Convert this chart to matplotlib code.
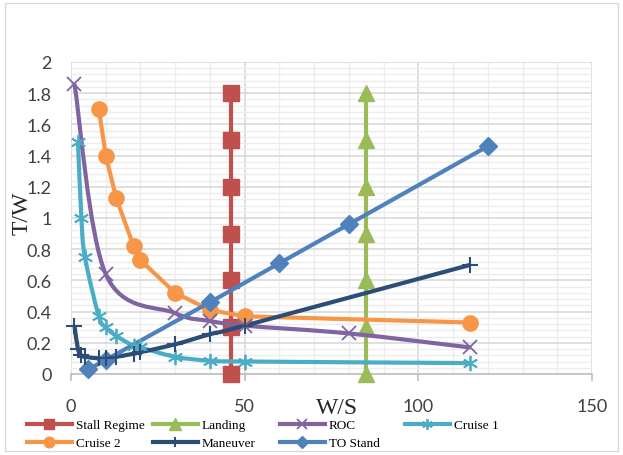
import matplotlib.pyplot as plt
import numpy as np
from matplotlib.path import Path
from matplotlib.patches import PathPatch, Rectangle
from matplotlib.lines import Line2D
from matplotlib.ticker import MultipleLocator

# ---- data ----
stall_x = [46, 46, 46, 46, 46, 46, 46]
stall_y = [0, 0.3, 0.6, 0.9, 1.2, 1.5, 1.8]

landing_x = [85, 85, 85, 85, 85, 85, 85]
landing_y = [0, 0.3, 0.6, 0.9, 1.2, 1.5, 1.8]

roc_x = [1, 10, 30, 40, 50, 80, 115]
roc_y = [1.86, 0.64, 0.39, 0.34, 0.31, 0.26, 0.17]

cruise1_x = [2, 3, 4, 8, 10, 13, 18, 20, 30, 40, 50, 115]
cruise1_y = [1.49, 1.0, 0.75, 0.37, 0.30, 0.245, 0.18, 0.17, 0.11, 0.085, 0.08, 0.07]

cruise2_x = [8, 10, 13, 18, 20, 30, 40, 50, 115]
cruise2_y = [1.70, 1.40, 1.13, 0.82, 0.73, 0.52, 0.41, 0.37, 0.33]

maneuver_x = [1, 2, 3, 4, 8, 10, 13, 18, 20, 30, 40, 50, 115]
maneuver_y = [0.31, 0.16, 0.12, 0.11, 0.10, 0.10, 0.11, 0.13, 0.14, 0.19, 0.255, 0.31, 0.70]

to_x = [5, 10, 40, 60, 80, 120]
to_y = [0.03, 0.09, 0.46, 0.71, 0.96, 1.46]

W, H = 623, 456
fig = plt.figure(figsize=(W / 100, H / 100), dpi=100)
ax = fig.add_axes([71 / W, 1 - 375 / H, (592 - 71) / W, (375 - 63) / H])

# chart border like the spreadsheet
fig.patches.append(Rectangle((5 / W, 4 / H), 613 / W, 448 / H, transform=fig.transFigure,
                             fill=False, edgecolor='#D9D9D9', linewidth=1))


def smooth_path(x, y):
    # spreadsheet style smoothed line drawn as bezier segments
    p = np.column_stack([x, y]).astype(float)
    n = len(p)
    verts = [p[0]]
    codes = [Path.MOVETO]
    for i in range(n - 1):
        a = p[i - 1] if i > 0 else p[i]
        b = p[i]
        c = p[i + 1]
        d = p[i + 2] if i + 2 < n else p[i + 1]
        verts += [b + (c - a) / 6, c - (d - b) / 6, c]
        codes += [Path.CURVE4] * 3
    return Path(verts, codes)


star = (6, 2, 0)
series = [
    ("Stall Regime", stall_x, stall_y, '#C0504D', 's', 11, False, 1),
    ("Landing", landing_x, landing_y, '#9BBB59', '^', 12, False, 1),
    ("ROC", roc_x, roc_y, '#8064A2', 'x', 10, True, 1.3),
    ("Cruise 1", cruise1_x, cruise1_y, '#4BACC6', star, 11, True, 1.3),
    ("Cruise 2", cruise2_x, cruise2_y, '#F79646', 'o', 11, False, 1),
    ("Maneuver", maneuver_x, maneuver_y, '#2C4D75', '+', 11, True, 1.5),
    ("TO Stand", to_x, to_y, '#4F81BD', 'D', 9, False, 1),
]

handles = {}
for name, x, y, col, mk, ms, smooth, mew in series:
    if smooth:
        ax.add_patch(PathPatch(smooth_path(x, y), facecolor='none', edgecolor=col,
                               linewidth=3, zorder=3))
        ax.plot(x, y, linestyle='none', marker=mk, markersize=ms, color=col,
                markeredgewidth=mew, zorder=4, clip_on=False)
    else:
        ax.plot(x, y, '-', color=col, linewidth=3, marker=mk, markersize=ms,
                markeredgewidth=mew, zorder=3, clip_on=False)
    handles[name] = Line2D([], [], color=col, linewidth=3, marker=mk,
                           markersize=ms * 0.7, markeredgewidth=mew)

ax.set_xlim(0, 150)
ax.set_ylim(0, 2)
ax.xaxis.set_major_locator(MultipleLocator(50))
ax.xaxis.set_minor_locator(MultipleLocator(10))
ax.yaxis.set_major_locator(MultipleLocator(0.2))
ax.yaxis.set_minor_locator(MultipleLocator(0.04))
ax.grid(True, which='major', color='#D9D9D9', linewidth=1.2)
ax.grid(True, which='minor', color='#EDEDED', linewidth=1.0)
ax.set_axisbelow(True)
for s in ['top', 'right', 'left']:
    ax.spines[s].set_visible(False)
ax.spines['bottom'].set_color('#BFBFBF')
ax.spines['bottom'].set_linewidth(1.2)

ax.set_yticks(np.arange(0, 2.01, 0.2))
ax.set_yticklabels(['0', '0.2', '0.4', '0.6', '0.8', '1', '1.2', '1.4', '1.6', '1.8', '2'])
ax.tick_params(axis='y', which='both', length=0, pad=14, labelsize=13, labelcolor='#404040')
ax.tick_params(axis='x', which='major', length=5, color='#BFBFBF', width=1.2, pad=12,
               labelsize=13, labelcolor='#404040')
ax.tick_params(axis='x', which='minor', length=0)
for lab in ax.get_xticklabels() + ax.get_yticklabels():
    lab.set_family('Lato')

fig.text(337 / W, 1 - 409 / H, "W/S", ha='center', va='center', fontsize=17,
         family='Liberation Serif', color='#262626')
fig.text(22 / W, 1 - 213 / H, "T/W", ha='center', va='center', fontsize=17,
         family='Liberation Serif', color='#262626', rotation=90)

# legend, laid out as four columns
cols = [("Stall Regime", "Cruise 2"), ("Landing", "Maneuver"), ("ROC", "TO Stand"), ("Cruise 1",)]
col_x = [27, 153, 280, 405]
for names, cx in zip(cols, col_x):
    fig.legend([handles[n] for n in names], list(names), loc='upper left',
               bbox_to_anchor=(cx / W, 1 - 420 / H), frameon=False,
               prop={'family': 'Liberation Serif', 'size': 9.5},
               handlelength=3.4, handletextpad=0.3, labelspacing=0.45,
               borderpad=0, borderaxespad=0)

fig.savefig("out.png", dpi=100)
